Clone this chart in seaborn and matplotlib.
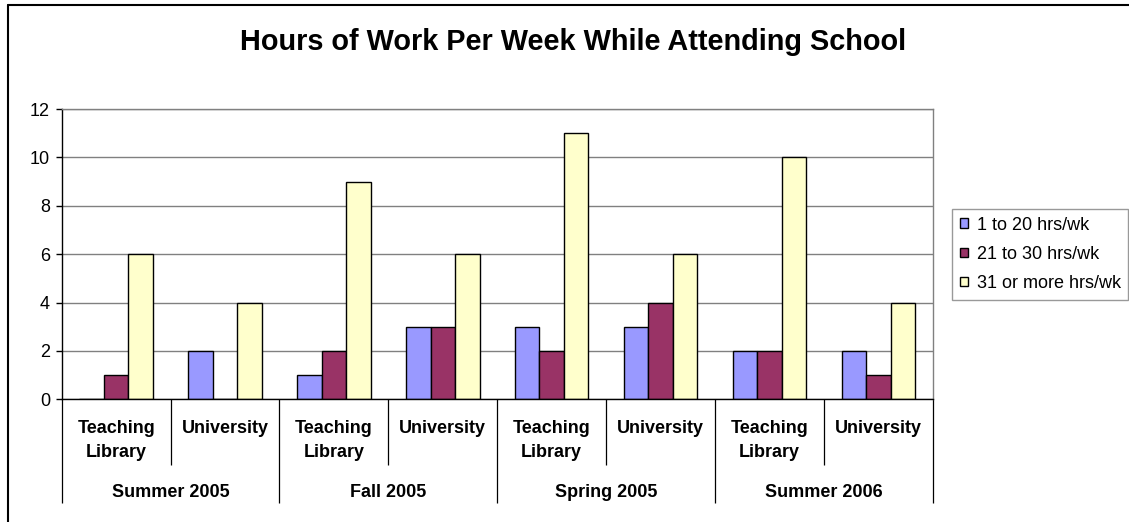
import numpy as np
import pandas as pd
import matplotlib
matplotlib.use("Agg")
import matplotlib.pyplot as plt
import matplotlib.transforms as mtransforms
from matplotlib.lines import Line2D
import seaborn as sns

# ---- data -------------------------------------------------------------
terms = ["Summer 2005", "Fall 2005", "Spring 2005", "Summer 2006"]
sites = ["Teaching\nLibrary", "University"]
series = ["1 to 20 hrs/wk", "21 to 30 hrs/wk", "31 or more hrs/wk"]

# one value per (term, site) slot, in term-major order
hrs_1_to_20 = [0, 2, 1, 3, 3, 3, 2, 2]
hrs_21_to_30 = [1, 0, 2, 3, 2, 4, 2, 1]
hrs_31_plus = [6, 4, 9, 6, 11, 6, 10, 4]

yticks = [0, 2, 4, 6, 8, 10, 12]
title = "Hours of Work Per Week While Attending School"
colors = ["#9999FF", "#993366", "#FFFFCC"]

# ---- long-form table --------------------------------------------------
slots = [f"{t} | {s}" for t in terms for s in sites]
rows = []
for name, vals in zip(series, [hrs_1_to_20, hrs_21_to_30, hrs_31_plus]):
    for slot, v in zip(slots, vals):
        rows.append({"slot": slot, "series": name, "hours": v})
df = pd.DataFrame(rows)

# ---- style ------------------------------------------------------------
sns.set_theme(style="white")
plt.rcParams["font.family"] = ["Liberation Sans", "DejaVu Sans"]

W, H = 1129, 522
fig = plt.figure(figsize=(W / 100, H / 100), dpi=100)
fig.patch.set_facecolor("white")

# plot area in pixel coordinates
left_px, right_px, top_px, bot_px = 61.7, 932.7, 109.0, 399.3
ax = fig.add_axes([left_px / W, 1 - bot_px / H,
                   (right_px - left_px) / W, (bot_px - top_px) / H])

sns.barplot(data=df, x="slot", y="hours", hue="series", order=slots,
            hue_order=series, palette=colors, width=0.675, saturation=1,
            edgecolor="black", linewidth=1, errorbar=None, ax=ax)

ax.set_xlim(-0.5, len(slots) - 0.5)
ax.set_ylim(yticks[0], yticks[-1])
ax.set_yticks(yticks)
ax.set_xticks([])
ax.set_xlabel("")
ax.set_ylabel("")
ax.yaxis.grid(True, color="#808080", lw=1)
ax.xaxis.grid(False)
ax.set_axisbelow(True)

for side in ["top", "right"]:
    ax.spines[side].set_color("#808080")
    ax.spines[side].set_linewidth(1)
for side in ["left", "bottom"]:
    ax.spines[side].set_color("black")
    ax.spines[side].set_linewidth(1)

ax.tick_params(axis="y", left=True, direction="out", length=4.5, width=1,
               color="black", pad=4, labelsize=13, labelcolor="black")

# ---- two-level category axis -----------------------------------------
trans = mtransforms.blended_transform_factory(ax.transData, ax.transAxes)
span = bot_px - top_px


def ay(px):
    return (bot_px - px) / span


for i in range(len(slots) + 1):
    x = i - 0.5
    y_end = ay(503) if i % len(sites) == 0 else ay(465)
    ax.plot([x, x], [0, y_end], transform=trans, color="black", lw=0.9,
            clip_on=False, solid_capstyle="butt")

for i, slot in enumerate(slots):
    site = sites[i % len(sites)]
    for j, line in enumerate(site.split("\n")):
        ax.text(i, ay(433 + 24 * j), line, transform=trans, ha="center",
                va="baseline", fontsize=13, fontweight="bold", color="black")

for k, term in enumerate(terms):
    xc = k * len(sites) + (len(sites) - 1) / 2
    ax.text(xc, ay(497), term, transform=trans, ha="center", va="baseline",
            fontsize=13, fontweight="bold", color="black")

# ---- title ------------------------------------------------------------
fig.text(573 / W, 1 - 50 / H, title, ha="center", va="baseline",
         fontsize=20.8, fontweight="bold", color="black")

# ---- legend -----------------------------------------------------------
handles, labels = ax.get_legend_handles_labels()
leg = ax.legend(handles, labels, loc="upper left",
                bbox_to_anchor=(952 / W, 1 - 209 / H),
                bbox_transform=fig.transFigure, frameon=True, fancybox=False,
                edgecolor="#808080", fontsize=13, handlelength=0.44,
                handleheight=0.44, handletextpad=0.5, labelspacing=0.68,
                borderpad=0.42, borderaxespad=0)
leg.get_frame().set_linewidth(1)
for t in leg.get_texts():
    t.set_color("black")

# ---- chart-area border (left and top edges) ---------------------------
fig.add_artist(Line2D([7.5 / W, 7.5 / W], [0, 1 - 5 / H],
                      transform=fig.transFigure, color="black", lw=1.5))
fig.add_artist(Line2D([7.5 / W, 1], [1 - 5 / H, 1 - 5 / H],
                      transform=fig.transFigure, color="black", lw=1.5))

fig.savefig("out.png", dpi=100)
